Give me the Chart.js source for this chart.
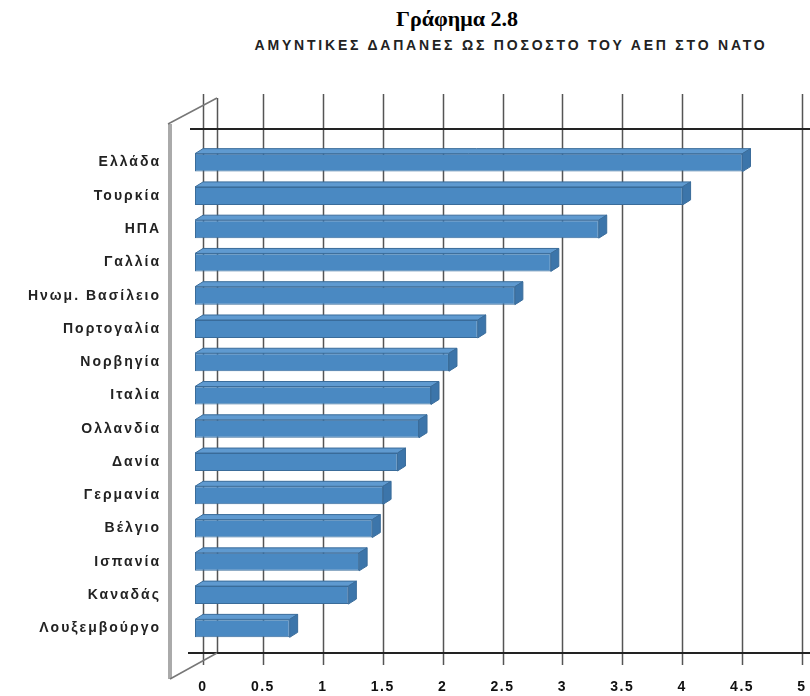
<!DOCTYPE html>
<html>
<head>
<meta charset="utf-8">
<script src="https://cdn.jsdelivr.net/npm/chart.js@4.4.0/dist/chart.umd.min.js"></script>
<style>
  body { margin: 0; background: #fff; }
  #wrap { position: relative; width: 810px; height: 696px; }
  #title { position: absolute; top: 6px; left: 457px; transform: translateX(-50%);
           font: bold 22px "Liberation Serif", serif; color: #000; white-space: nowrap; }
  #sub { position: absolute; top: 36px; left: 511px; transform: translateX(-50%) scaleY(1.1);
         font: bold 14px "Liberation Sans", sans-serif; letter-spacing: 2.8px;
         color: #222; white-space: nowrap; }
  canvas { position: absolute; left: 0; top: 0; }
</style>
</head>
<body>
<div id="wrap">
  <div id="title">Γράφημα 2.8</div>
  <div id="sub">ΑΜΥΝΤΙΚΕΣ ΔΑΠΑΝΕΣ ΩΣ ΠΟΣΟΣΤΟ ΤΟΥ ΑΕΠ ΣΤΟ ΝΑΤΟ</div>
  <canvas id="chart" width="810" height="696"></canvas>
</div>
<script>
const countries = ["Ελλάδα", "Τουρκία", "ΗΠΑ", "Γαλλία", "Ηνωμ. Βασίλειο", "Πορτογαλία", "Νορβηγία",
  "Ιταλία", "Ολλανδία", "Δανία", "Γερμανία", "Βέλγιο", "Ισπανία", "Καναδάς", "Λουξεμβούργο"];
const spending = [4.57, 4.07, 3.37, 2.97, 2.67, 2.36, 2.12, 1.97, 1.87, 1.69, 1.57, 1.48, 1.37, 1.28, 0.79];
const xMin = 0, xMax = 5, xStep = 0.5;

// depth of the fake 3d look
const DX = 8, DY = 5;

// canvas letter spacing per axis (labels in the original are spaced out)
function spaceLabels(scale, spacing) {
  if (scale._spaced) return;
  const orig = scale.drawLabels.bind(scale);
  scale.drawLabels = function (area) {
    const c = this.ctx;
    c.save();
    c.letterSpacing = spacing;
    orig(area);
    c.restore();
  };
  scale._spaced = true;
}

const frame3d = {
  id: "frame3d",
  afterLayout(chart) {
    spaceLabels(chart.scales.y, "2px");
    spaceLabels(chart.scales.x, "1.5px");
  },
  beforeDatasetsDraw(chart) {
    const { ctx, chartArea, scales } = chart;
    const x = scales.x;
    const top = chartArea.top, bottom = chartArea.bottom;
    const x0 = x.getPixelForValue(0);
    ctx.save();
    // vertical grid lines
    ctx.strokeStyle = "#555";
    ctx.lineWidth = 1.5;
    x.ticks.forEach(t => {
      const px = Math.round(x.getPixelForValue(t.value)) + 0.5;
      ctx.beginPath();
      ctx.moveTo(px, top - 52);
      ctx.lineTo(px, bottom + 20);
      ctx.stroke();
    });
    // back edge of the side wall
    ctx.beginPath();
    ctx.moveTo(x0 + 14.5, top - 48);
    ctx.lineTo(x0 + 14.5, bottom + 8);
    ctx.stroke();
    // top and bottom horizontal lines
    ctx.strokeStyle = "#222";
    ctx.lineWidth = 2;
    ctx.beginPath();
    ctx.moveTo(x0 - 13, top - 17);
    ctx.lineTo(chart.width, top - 17);
    ctx.moveTo(x0 - 15, bottom + 8);
    ctx.lineTo(chart.width, bottom + 8);
    ctx.stroke();
    // side wall
    ctx.strokeStyle = "#aaa";
    ctx.lineWidth = 4;
    ctx.beginPath();
    ctx.moveTo(x0 - 33, top - 22);
    ctx.lineTo(x0 - 33, bottom + 34);
    ctx.stroke();
    ctx.strokeStyle = "#777";
    ctx.lineWidth = 1.5;
    ctx.beginPath();
    ctx.moveTo(x0 - 35, top - 22);
    ctx.lineTo(x0 + 14, top - 48);
    ctx.moveTo(x0 - 33, bottom + 34);
    ctx.lineTo(x0 + 14, bottom + 8);
    ctx.stroke();
    ctx.restore();
  },
  beforeDatasetDraw(chart) {
    chart.ctx.save();
    chart.ctx.translate(-DX, 0);
  },
  afterDatasetDraw(chart, args) {
    const ctx = chart.ctx;
    ctx.restore();
    ctx.save();
    args.meta.data.forEach(bar => {
      const p = bar.getProps(["x", "y", "base", "height"], true);
      const t = p.y - p.height / 2, b = p.y + p.height / 2;
      const xs = p.base - DX, xe = p.x - DX;
      ctx.lineWidth = 1;
      ctx.strokeStyle = "#3a6c9a";
      // top face
      ctx.fillStyle = "#5f9ad0";
      ctx.beginPath();
      ctx.moveTo(xs, t);
      ctx.lineTo(xe, t);
      ctx.lineTo(xe + DX, t - DY);
      ctx.lineTo(xs + DX, t - DY);
      ctx.closePath();
      ctx.fill();
      ctx.stroke();
      // end face
      ctx.fillStyle = "#3c75aa";
      ctx.beginPath();
      ctx.moveTo(xe, t);
      ctx.lineTo(xe + DX, t - DY);
      ctx.lineTo(xe + DX, b - DY);
      ctx.lineTo(xe, b);
      ctx.closePath();
      ctx.fill();
      ctx.stroke();
    });
    ctx.restore();
  }
};

new Chart(document.getElementById("chart"), {
  type: "bar",
  data: {
    labels: countries,
    datasets: [{
      data: spending,
      backgroundColor: "#4a89c2",
      borderColor: "#3a6c9a",
      borderWidth: 1,
      borderSkipped: false,
      categoryPercentage: 1,
      barPercentage: 0.54
    }]
  },
  options: {
    indexAxis: "y",
    responsive: false,
    animation: false,
    layout: { padding: { top: 146, right: 8, left: 0, bottom: 0 } },
    plugins: { legend: { display: false }, tooltip: { enabled: false } },
    scales: {
      x: {
        min: xMin, max: xMax,
        grid: { display: false },
        border: { display: false },
        ticks: { stepSize: xStep, padding: 26, color: "#111",
                 font: { family: "Liberation Sans", size: 14, weight: "bold" },
                 callback: v => v },
        afterFit(scale) {
          scale.height = 51;
          scale.paddingLeft = 0;
          scale.paddingRight = 0;
        }
      },
      y: {
        grid: { display: false },
        border: { display: false },
        ticks: { padding: 34, color: "#222",
                 font: { family: "Liberation Sans", size: 14, weight: "bold" } },
        afterFit(scale) { scale.width = 203; }
      }
    }
  },
  plugins: [frame3d]
});
</script>
</body>
</html>
